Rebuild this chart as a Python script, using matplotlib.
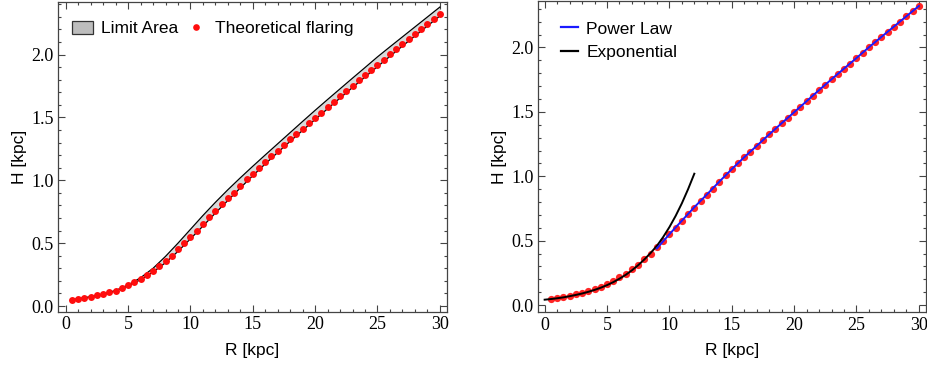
import numpy as np
import matplotlib
matplotlib.use("Agg")
import matplotlib.pyplot as plt
from matplotlib.ticker import MultipleLocator, FormatStrFormatter
from matplotlib.patches import Patch
from matplotlib.lines import Line2D

# theoretical flaring points, R every 0.5 kpc
R_pts = np.arange(1, 61) * 0.5
H_pts = [0.050, 0.058, 0.066, 0.074, 0.085, 0.095, 0.109, 0.122, 0.143, 0.164,
         0.188, 0.217, 0.244, 0.278, 0.315, 0.358, 0.400, 0.450, 0.500, 0.550,
         0.600, 0.650, 0.707, 0.757, 0.808, 0.856, 0.903, 0.956, 1.007, 1.054,
         1.100, 1.147, 1.192, 1.234, 1.285, 1.327, 1.367, 1.412, 1.454, 1.497,
         1.539, 1.584, 1.626, 1.671, 1.711, 1.754, 1.796, 1.836, 1.875, 1.921,
         1.960, 2.005, 2.042, 2.082, 2.122, 2.162, 2.201, 2.244, 2.281, 2.323]

# limit area (upper / lower curves)
R_lim = [0.5, 1, 2, 3, 4, 5, 6, 7, 8, 9, 10, 11, 12, 13, 14, 15, 16, 17, 18, 19,
         20, 21, 22, 23, 24, 25, 26, 27, 28, 29, 30]
H_up = [0.050, 0.058, 0.074, 0.095, 0.124, 0.168, 0.225, 0.300, 0.395, 0.500,
        0.610, 0.720, 0.825, 0.925, 1.020, 1.112, 1.202, 1.291, 1.380, 1.469,
        1.557, 1.643, 1.728, 1.813, 1.897, 1.982, 2.062, 2.141, 2.220, 2.299, 2.378]
H_low = [0.048, 0.056, 0.072, 0.093, 0.120, 0.160, 0.210, 0.270, 0.345, 0.435,
         0.535, 0.636, 0.740, 0.840, 0.940, 1.037, 1.131, 1.222, 1.311, 1.398,
         1.484, 1.570, 1.655, 1.739, 1.822, 1.905, 1.987, 2.068, 2.148, 2.228, 2.307]

# fits
R_exp = np.arange(0, 25) * 0.5
H_exp = [0.042, 0.047, 0.053, 0.060, 0.069, 0.079, 0.090, 0.103, 0.118, 0.135,
         0.155, 0.178, 0.205, 0.235, 0.270, 0.310, 0.355, 0.405, 0.460, 0.528,
         0.605, 0.692, 0.790, 0.900, 1.020]
R_pow = [9, 10, 11, 12, 13, 14, 15, 16, 17, 18, 19, 20, 21, 22, 23, 24, 25, 26,
         27, 28, 29, 30]
H_pow = [0.440, 0.550, 0.655, 0.760, 0.858, 0.958, 1.055, 1.148, 1.236, 1.325,
         1.412, 1.497, 1.583, 1.669, 1.753, 1.836, 1.918, 2.002, 2.082, 2.162,
         2.242, 2.322]

frame_col = '#444444'
red = '#ff0d0d'
labfont = {'family': 'Liberation Sans', 'size': 12.5}


def style(ax):
    for s in ax.spines.values():
        s.set_color(frame_col)
        s.set_linewidth(0.9)
    ax.xaxis.set_major_locator(MultipleLocator(5))
    ax.xaxis.set_minor_locator(MultipleLocator(1))
    ax.yaxis.set_major_locator(MultipleLocator(0.5))
    ax.yaxis.set_minor_locator(MultipleLocator(0.1))
    ax.yaxis.set_major_formatter(FormatStrFormatter('%.1f'))
    ax.tick_params(which='both', direction='in', top=True, right=True,
                   color=frame_col, width=0.8)
    ax.tick_params(which='major', length=5, pad=3)
    ax.tick_params(which='minor', length=2.5)
    ax.set_xlabel('R [kpc]', fontdict=labfont, labelpad=7)
    ax.set_ylabel('H [kpc]', fontdict=labfont, labelpad=3)
    for lab in ax.get_xticklabels() + ax.get_yticklabels():
        lab.set_fontfamily('Liberation Serif')
        lab.set_fontsize(13)


fig = plt.figure(figsize=(9.27, 3.65), dpi=100)
ax1 = fig.add_axes([0.0626, 0.145, 0.4194, 0.850])
ax2 = fig.add_axes([0.580, 0.144, 0.419, 0.853])

# left panel
ax1.fill_between(R_lim, H_low, H_up, color='#d9d9d9', lw=0)
ax1.plot(R_lim, H_up, color='black', lw=0.9)
ax1.plot(R_lim, H_low, color='black', lw=0.9)
ax1.plot(R_pts, H_pts, 'o', color=red, ms=5.0, mew=0)
ax1.set_xlim(-0.62, 30.56)
ax1.set_ylim(-0.048, 2.42)
style(ax1)
h1 = [Patch(facecolor='#bdbdbd', edgecolor='#333333', lw=0.9),
      Line2D([], [], ls='none', marker='o', color=red, ms=4.8, mew=0)]
ax1.legend(h1, ['Limit Area', 'Theoretical flaring'], loc='upper left', ncol=2,
           frameon=False, prop={'family': 'Liberation Sans', 'size': 12.5},
           handlelength=1.2, handleheight=0.8, handletextpad=0.5,
           columnspacing=0.4, bbox_to_anchor=(-0.005, 0.99), borderaxespad=0.5)

# right panel
ax2.plot(R_pts, H_pts, 'o', color=red, ms=5.2, mew=0, alpha=0.9)
ax2.plot(R_exp, H_exp, color='black', lw=1.4)
ax2.plot(R_pow, H_pow, color='#1a1aff', lw=1.4)
ax2.set_xlim(-0.56, 30.58)
ax2.set_ylim(-0.057, 2.36)
style(ax2)
h2 = [Line2D([], [], color='#1a1aff', lw=1.6),
      Line2D([], [], color='black', lw=1.6)]
ax2.legend(h2, ['Power Law', 'Exponential'], loc='upper left',
           frameon=False, prop={'family': 'Liberation Sans', 'size': 12.5},
           handlelength=1.0, handletextpad=0.45, labelspacing=0.5,
           bbox_to_anchor=(0.02, 0.985))

fig.savefig('out.png', dpi=100)
